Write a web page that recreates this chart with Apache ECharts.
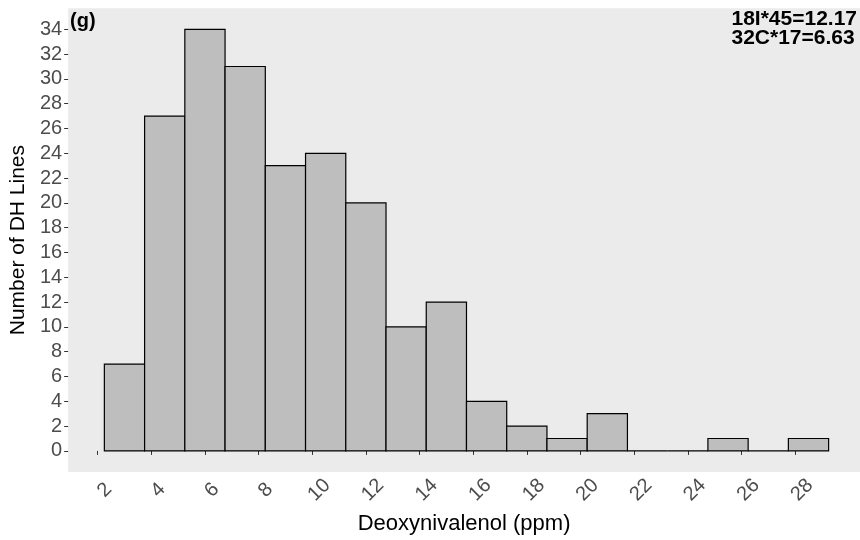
<!DOCTYPE html>
<html>
<head>
<meta charset="utf-8">
<script src="https://cdn.jsdelivr.net/npm/echarts@6/dist/echarts.min.js"></script>
<style>html,body{margin:0;padding:0;background:#fff}#c{width:860px;height:540px}</style>
</head>
<body>
<div id="c"></div>
<script>
// Histogram data
const binStart = 2.25;
const binWidth = 1.5;
const counts = [7, 27, 34, 31, 23, 24, 20, 10, 12, 4, 2, 1, 3, 0, 0, 1, 0, 1];
const xTicks = [2, 4, 6, 8, 10, 12, 14, 16, 18, 20, 22, 24, 26, 28];
const yTicks = [0, 2, 4, 6, 8, 10, 12, 14, 16, 18, 20, 22, 24, 26, 28, 30, 32, 34];
const panelLabel = '(g)';
const annotLines = ['18I*45=12.17', '32C*17=6.63'];
const xTitle = 'Deoxynivalenol (ppm)';
const yTitle = 'Number of DH Lines';

const FONT = '"Liberation Sans", Arial, sans-serif';
const data = counts.map((c, i) => [binStart + i * binWidth, binStart + (i + 1) * binWidth, c]);

const chart = echarts.init(document.getElementById('c'), null, {renderer: 'canvas'});
chart.setOption({
  animation: false,
  backgroundColor: '#ffffff',
  grid: {
    left: 66.7, right: 0, top: 8.2, bottom: 66.5,
    show: true, backgroundColor: '#EBEBEB', borderWidth: 0
  },
  xAxis: {
    type: 'value', min: 0.9, max: 30.42,
    name: xTitle, nameLocation: 'middle', nameGap: 41,
    nameTextStyle: {fontFamily: FONT, fontSize: 22, color: '#000'},
    axisLine: {show: false},
    axisTick: {show: true, customValues: xTicks, length: 4, lineStyle: {color: '#333', width: 1}},
    axisLabel: {customValues: xTicks, rotate: 45, align: 'center', verticalAlign: 'top', margin: 11,
      fontFamily: FONT, fontSize: 20, color: '#4D4D4D'},
    splitLine: {show: false}
  },
  yAxis: {
    type: 'value', min: -1.7, max: 35.7,
    name: yTitle, nameLocation: 'middle', nameGap: 34,
    nameTextStyle: {fontFamily: FONT, fontSize: 21, color: '#000'},
    axisLine: {show: false},
    axisTick: {show: true, customValues: yTicks, length: 4, lineStyle: {color: '#333', width: 1}},
    axisLabel: {customValues: yTicks, margin: 6, fontFamily: FONT, fontSize: 20, color: '#4D4D4D'},
    splitLine: {show: false}
  },
  series: [{
    type: 'custom',
    data: data,
    encode: {x: [0, 1], y: 2},
    renderItem: function (params, api) {
      const p0 = api.coord([api.value(0), api.value(2)]);
      const p1 = api.coord([api.value(1), 0]);
      return {
        type: 'rect',
        shape: {x: p0[0], y: p0[1], width: p1[0] - p0[0], height: p1[1] - p0[1]},
        style: {fill: '#BEBEBE', stroke: '#000', lineWidth: 1.2}
      };
    }
  }],
  graphic: [
    {type: 'text', left: 70, top: 11,
      style: {text: panelLabel, font: 'bold 20px ' + FONT, fill: '#000'}},
    {type: 'text', right: 3, top: 9,
      style: {text: annotLines.join('\n'), font: 'bold 21px ' + FONT, fill: '#000', align: 'right', lineHeight: 19}}
  ]
});
</script>
</body>
</html>
